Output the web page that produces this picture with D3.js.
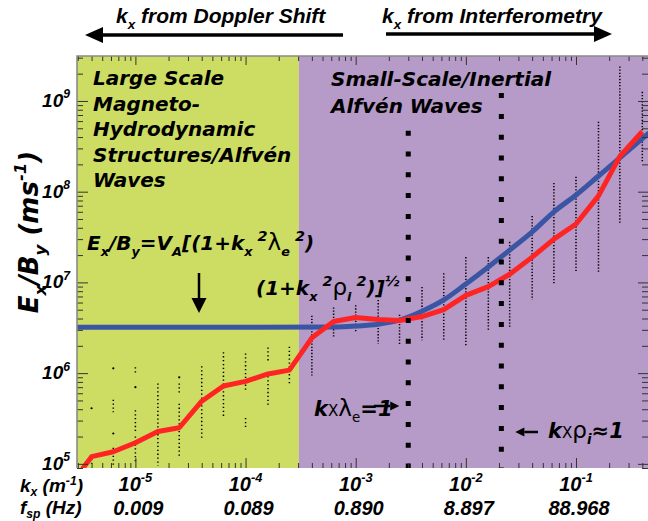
<!DOCTYPE html>
<html>
<head>
<meta charset="utf-8">
<title>Ex/By versus kx</title>
<script src="https://d3js.org/d3.v7.min.js"></script>
<style>
  body { margin: 0; background: #fff; }
  svg text { font-family: "DejaVu Sans", sans-serif; font-weight: bold; font-style: italic; fill: #000; }
  svg text.lib { font-family: "Liberation Sans", Arial, sans-serif; }
  .tick line { stroke: #333; }
</style>
</head>
<body>
<svg id="chart" width="648" height="521"></svg>
<script>
// axis limits: kx (m^-1) and Ex/By (m/s)
const xLimits = [2.95e-6, 0.46];
const yLimits = [9.0e4, 3.13e9];
const kBoundary = 3.05e-4;   // Doppler / interferometry split
const kLambdaE = 3.0e-3;     // kx lambda_e = 1
const kRhoI = 2.1e-2;        // kx rho_i ~ 1
const kLineTops = [4.7e8, 1.22e9];

const xDecades = [1e-5, 1e-4, 1e-3, 1e-2, 1e-1];
const xExponents = ["-5", "-4", "-3", "-2", "-1"];
const fspLabels = ["0.009", "0.089", "0.890", "8.897", "88.968"];
const yDecades = [1e5, 1e6, 1e7, 1e8, 1e9];
const yExponents = ["5", "6", "7", "8", "9"];

// theory curve (blue)
const theoryK = [2.95e-6, 1e-4, 6.3e-4, 1e-3, 1.6e-3, 2.5e-3, 4e-3, 6.3e-3, 1e-2, 1.6e-2,
                 2.5e-2, 4e-2, 6.3e-2, 0.1, 0.16, 0.25, 0.46];
const theoryE = [3.2e6, 3.2e6, 3.22e6, 3.3e6, 3.46e6, 3.83e6, 4.8e6, 6.4e6, 9.6e6, 1.48e7,
                 2.27e7, 3.6e7, 6.0e7, 9.2e7, 1.49e8, 2.36e8, 4.46e8];

// median of observations (red)
const medianK = [3.3e-6, 4e-6, 6.3e-6, 1e-5, 1.6e-5, 2.5e-5, 4e-5, 6.3e-5, 1e-4, 1.6e-4, 2.5e-4,
                 4e-4, 6.3e-4, 1e-3, 1.6e-3, 2.5e-3, 4e-3, 6.3e-3, 1e-2, 1.6e-2, 2.5e-2,
                 4e-2, 6.3e-2, 0.1, 0.16, 0.25, 0.4];
const medianE = [8.8e4, 1.2e5, 1.36e5, 1.71e5, 2.27e5, 2.5e5, 4.9e5, 7.2e5, 8.1e5, 9.8e5, 1.08e6,
                 2.45e6, 3.7e6, 4.1e6, 3.9e6, 3.8e6, 4.2e6, 5.0e6, 7.2e6, 9.0e6, 1.23e7,
                 1.9e7, 3.0e7, 4.4e7, 9.0e7, 2.45e8, 4.6e8];

// observed spread in each k bin: [low, high] stretches of points
const binK = [4e-6, 6.3e-6, 1e-5, 1.6e-5, 2.5e-5, 4e-5, 6.3e-5, 1e-4, 1.6e-4, 2.5e-4,
              4e-4, 6.3e-4, 1e-3, 1.6e-3, 2.5e-3, 4e-3, 6.3e-3, 1e-2, 1.6e-2, 2.5e-2,
              4e-2, 6.3e-2, 0.1, 0.16, 0.25, 0.4];
const binRanges = [
  [[4.1e5, 4.1e5], [1.0e5, 1.25e5]],
  [[1.13e6, 1.13e6], [3.7e5, 5.1e5], [2.16e5, 2.16e5], [9.6e4, 1.5e5]],
  [[9.9e5, 1.16e6], [7.0e5, 7.0e5], [2.3e5, 3.9e5], [1.0e5, 2.0e5]],
  [[9.5e4, 7.7e5]],
  [[9.0e5, 9.0e5], [5.8e5, 7.7e5], [1.17e5, 4.6e5]],
  [[1.9e5, 1.19e6]],
  [[3.2e5, 1.7e6]],
  [[6.5e5, 1.65e6], [2.45e5, 3.2e5]],
  [[1.38e6, 1.92e6], [4.2e5, 1.02e6]],
  [[7.3e5, 1.95e6]],
  [[9.4e5, 4.3e6]],
  [[2.5e6, 5.3e6]],
  [[2.8e6, 5.6e6]],
  [[2.1e6, 6.4e6]],
  [[2.0e6, 4.4e6]],
  [[2.3e6, 8.9e6]],
  [[2.3e6, 1.26e7]],
  [[2.0e6, 1.9e7]],
  [[3.0e6, 1.9e7]],
  [[3.2e6, 2.8e7]],
  [[6.4e6, 5.4e7]],
  [[9.8e6, 1.25e8]],
  [[1.3e7, 1.46e8]],
  [[1.3e7, 5.9e8]],
  [[4.5e7, 2.4e9]],
  [[2.1e8, 1.26e9]]
];

const GREEN = "#cddd63", PURPLE = "#b69ac7", BLUE = "#3b55a5", RED = "#ff2424";
const plot = { left: 77, right: 649, top: 56, bottom: 468 };

const svg = d3.select("#chart");
const x = d3.scaleLog().domain(xLimits).range([plot.left, plot.right]);
const y = d3.scaleLog().domain(yLimits).range([plot.bottom, plot.top]);

// backgrounds
svg.append("rect")
  .attr("x", x(xLimits[0])).attr("y", plot.top)
  .attr("width", x(kBoundary) - x(xLimits[0])).attr("height", plot.bottom - plot.top)
  .attr("fill", GREEN);
svg.append("rect")
  .attr("x", x(kBoundary)).attr("y", plot.top)
  .attr("width", x(xLimits[1]) - x(kBoundary)).attr("height", plot.bottom - plot.top)
  .attr("fill", PURPLE);

svg.append("clipPath").attr("id", "clip").append("rect")
  .attr("x", plot.left).attr("y", plot.top)
  .attr("width", plot.right - plot.left).attr("height", plot.bottom - plot.top);
const inner = svg.append("g").attr("clip-path", "url(#clip)");

// scatter of observations
const stretches = [];
binK.forEach((k, i) => binRanges[i].forEach(r => stretches.push({ k: k, lo: r[0], hi: r[1] })));
inner.selectAll(".run").data(stretches.filter(d => d.lo !== d.hi)).enter()
  .append("line").attr("class", "run")
  .attr("x1", d => x(d.k)).attr("x2", d => x(d.k))
  .attr("y1", d => y(d.hi)).attr("y2", d => y(d.lo))
  .attr("stroke", "#000").attr("stroke-width", 1.5)
  .attr("stroke-dasharray", d => d.k < kBoundary ? "1.3 2.6" : "1.3 1.8");
inner.selectAll(".pt").data(stretches.filter(d => d.lo === d.hi)).enter()
  .append("circle").attr("class", "pt")
  .attr("cx", d => x(d.k)).attr("cy", d => y(d.lo)).attr("r", 1.1)
  .attr("fill", "#000");

// theory (blue) and median (red)
const blueLine = d3.line().x((d, i) => x(theoryK[i])).y(d => y(d)).curve(d3.curveMonotoneX);
inner.append("path").datum(theoryE)
  .attr("d", blueLine).attr("fill", "none")
  .attr("stroke", BLUE).attr("stroke-width", 5);
const redLine = d3.line().x((d, i) => x(medianK[i])).y(d => y(d));
inner.append("path").datum(medianE)
  .attr("d", redLine).attr("fill", "none")
  .attr("stroke", RED).attr("stroke-width", 5).attr("stroke-linejoin", "round");

// kx lambda_e = 1 and kx rho_i = 1 markers
inner.selectAll(".kline").data([kLambdaE, kRhoI]).enter()
  .append("line").attr("class", "kline")
  .attr("x1", d => x(d)).attr("x2", d => x(d))
  .attr("y1", (d, i) => y(kLineTops[i])).attr("y2", y(yLimits[0]))
  .attr("stroke", "#000").attr("stroke-width", 5)
  .attr("stroke-dasharray", "5 15.8");

// ticks on all four sides, pointing inward
const xt = x.ticks(), yt = y.ticks();
const major = v => Math.abs(Math.log10(v) - Math.round(Math.log10(v))) < 1e-6;
function ticks(axis, vals, size, tr) {
  const g = svg.append("g").attr("transform", tr)
    .call(axis.tickValues(vals).tickSize(size).tickFormat(""));
  g.select(".domain").remove();
}
ticks(d3.axisBottom(x), xt.filter(v => !major(v)), -5, `translate(0,${plot.bottom})`);
ticks(d3.axisBottom(x), xt.filter(major), -10, `translate(0,${plot.bottom})`);
ticks(d3.axisTop(x), xt.filter(v => !major(v)), -5, `translate(0,${plot.top})`);
ticks(d3.axisTop(x), xt.filter(major), -9, `translate(0,${plot.top})`);
ticks(d3.axisLeft(y), yt.filter(v => !major(v)), -6, `translate(${plot.left},0)`);
ticks(d3.axisLeft(y), yt.filter(major), -11, `translate(${plot.left},0)`);
ticks(d3.axisRight(y), yt.filter(v => !major(v)), -6, `translate(${plot.right - 1},0)`);
ticks(d3.axisRight(y), yt.filter(major), -10, `translate(${plot.right - 1},0)`);

// frame (top and left edges)
svg.append("path")
  .attr("d", `M${plot.left},${plot.bottom}V${plot.top}H${plot.right}`)
  .attr("fill", "none").attr("stroke", "#8a8a8a").attr("stroke-width", 1.6);

// text with sub/superscripts
function rich(parent, px, py, size, parts, anchor, cls, sub, sup) {
  const t = parent.append("text").attr("x", px).attr("y", py)
    .attr("font-size", size).attr("text-anchor", anchor || "start");
  if (cls) t.attr("class", cls);
  const subDrop = sub == null ? 0.3 : sub;
  const supRise = sup == null ? 0.45 : sup;
  let cur = 0;
  parts.forEach(([str, mode, look, scale]) => {
    const off = mode === "sub" ? subDrop * size : mode === "sup" ? -supRise * size : 0;
    const ts = t.append("tspan").attr("dy", off - cur).text(str);
    cur = off;
    if (mode) ts.attr("font-size", size * (scale || 0.64));
    else if (scale) ts.attr("font-size", size * scale);
    if (look === "plain") ts.attr("font-style", "normal").attr("font-weight", "normal");
  });
  return t;
}

function arrow(x1, y1, x2, y2, w, head, hw) {
  const a = Math.atan2(y2 - y1, x2 - x1);
  const bx = x2 - head * Math.cos(a), by = y2 - head * Math.sin(a);
  svg.append("line").attr("x1", x1).attr("y1", y1).attr("x2", bx).attr("y2", by)
    .attr("stroke", "#000").attr("stroke-width", w);
  const px = -Math.sin(a) * hw / 2, py = Math.cos(a) * hw / 2;
  svg.append("path")
    .attr("d", `M${x2},${y2}L${bx + px},${by + py}L${bx - px},${by - py}Z`)
    .attr("fill", "#000");
}

// y tick labels
yDecades.forEach((v, i) => {
  rich(svg, 70, y(v) + 6, 19, [["10"], [yExponents[i], "sup"]], "end", "lib");
});
// x tick labels: kx and spacecraft-frame frequency
rich(svg, 20, 492, 19, [["k"], ["x", "sub"], [" (m"], ["-1", "sup"], [")"]], "start", "lib", 0.2, 0.36);
rich(svg, 20, 514, 19, [["f"], ["sp", "sub"], [" (Hz)"]], "start", "lib", 0.2);
xDecades.forEach((v, i) => {
  rich(svg, x(v), 491, 20, [["10"], [xExponents[i], "sup"]], "middle", "lib");
  rich(svg, x(v) + 3, 515, 20, [[fspLabels[i]]], "middle", "lib");
});

// y axis title
const yTitle = svg.append("g").attr("transform", "translate(38,232) rotate(-90)");
rich(yTitle, 0, 0, 26, [["E"], ["x", "sub"], ["/B"], ["y", "sub"], [" (ms"], ["-1", "sup"], [")"]], "middle");

// top: source of kx
rich(svg, 116, 23, 21, [["k"], ["x", "sub"], [" from Doppler Shift"]], "start", "lib");
rich(svg, 382, 23, 21, [["k"], ["x", "sub"], [" from Interferometry"]], "start", "lib");
arrow(343, 35, 85, 35, 3.5, 18, 16);
arrow(386, 34, 612, 34, 3.5, 18, 16);

// region labels
["Large Scale", "Magneto-", "Hydrodynamic", "Structures/Alfvén", "Waves"].forEach((s, i) => {
  svg.append("text").attr("x", 93).attr("y", 85 + i * 25.5).attr("font-size", 20).text(s);
});
["Small-Scale/Inertial", "Alfvén Waves"].forEach((s, i) => {
  svg.append("text").attr("x", 331).attr("y", 86 + i * 27).attr("font-size", 20).text(s);
});

// dispersion relation
rich(svg, 87, 250, 20, [["E"], ["x", "sub"], ["/B"], ["y", "sub"], ["=V"], ["A", "sub"],
  ["[(1+k"], ["x", "sub"], [" 2", "sup", null, 0.72], ["λ", "", "plain", 1.15], ["e", "sub"],
  [" 2", "sup", null, 0.72], [")"]]);
rich(svg, 256, 295, 20, [["(1+k"], ["x", "sub"], [" 2", "sup", null, 0.72], ["ρ", "", "plain", 1.15],
  ["i", "sub"], [" 2", "sup", null, 0.72], [")]"], ["½", "sup", null, 0.7]]);
arrow(199, 273, 199, 313, 2.5, 15, 15);

// kx lambda_e = 1 / kx rho_i ~ 1 labels
rich(svg, 314, 416, 21, [["k"], ["X", "", "plain", 0.72], ["λ", "", "plain", 1.1], ["e", "sub", "plain"], ["=1"]]);
arrow(374, 406, x(kLambdaE) - 9, 406, 2.5, 9, 9);
arrow(538, 432, x(kRhoI) + 14, 432, 2.5, 9, 9);
rich(svg, 548, 438, 21, [["k"], ["X", "", "plain", 0.72], ["ρ", "", "plain", 1.1], ["i", "sub"], ["≈1"]]);
</script>
</body>
</html>
